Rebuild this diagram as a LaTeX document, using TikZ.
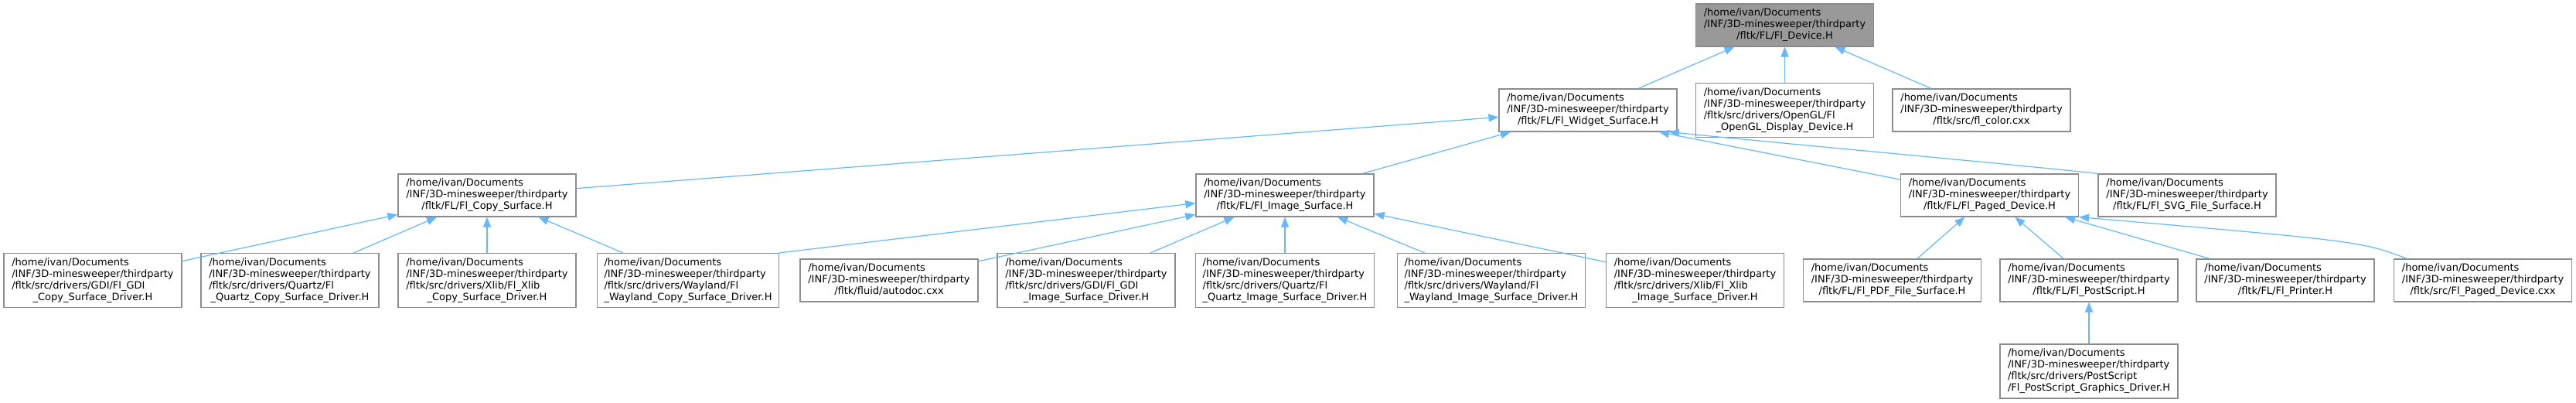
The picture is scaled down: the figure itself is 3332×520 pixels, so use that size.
\documentclass[tikz,border=0pt]{standalone}
\usepackage{fontspec}
\setmainfont{DejaVu Sans}
\usetikzlibrary{arrows.meta}
\definecolor{inclblue}{RGB}{99,184,255}
\definecolor{framegrey}{RGB}{140,140,140}
\definecolor{rootgrey}{RGB}{153,153,153}
\newcommand{\lastln}[1]{\multicolumn{1}{@{}c@{}}{#1}}
\newcommand{\docpath}[1]{\begin{tabular}{@{}l@{}}/home/ivan/Documents\\/INF/3D-minesweeper/thirdparty\\#1\end{tabular}}

\begin{document}
\begin{tikzpicture}[x=1pt,y=-1pt,font=\fontsize{13}{15}\selectfont,
    >={Triangle[length=13pt,width=10pt]},
    file/.style={draw=framegrey,fill=white,line width=1.2pt,inner xsep=9pt,inner ysep=5pt,minimum width=230pt},
    rootfile/.style={file,fill=rootgrey},
    incl/.style={->,draw=inclblue,line width=1.2pt}]
    \useasboundingbox (0,0) rectangle (3332,520);
    \node[rootfile] (device) at (2308.5,32.5) {\docpath{\lastln{/fltk/FL/Fl\_Device.H}}};
    \node[file] (widgetsurf) at (2054,142.5) {\docpath{\lastln{/fltk/FL/Fl\_Widget\_Surface.H}}};
    \node[file] (opengldev) at (2308.5,142.5) {\docpath{/fltk/src/drivers/OpenGL/Fl\\\lastln{\_OpenGL\_Display\_Device.H}}};
    \node[file] (flcolor) at (2563,142.5) {\docpath{\lastln{/fltk/src/fl\_color.cxx}}};
    \node[file] (copysurf) at (630,252.5) {\docpath{\lastln{/fltk/FL/Fl\_Copy\_Surface.H}}};
    \node[file] (imagesurf) at (1662,252.5) {\docpath{\lastln{/fltk/FL/Fl\_Image\_Surface.H}}};
    \node[file] (pageddev) at (2573.5,252.5) {\docpath{\lastln{/fltk/FL/Fl\_Paged\_Device.H}}};
    \node[file] (svgsurf) at (2829,252.5) {\docpath{\lastln{/fltk/FL/Fl\_SVG\_File\_Surface.H}}};
    \node[file] (gdicopy) at (120,362.5) {\docpath{/fltk/src/drivers/GDI/Fl\_GDI\\\lastln{\_Copy\_Surface\_Driver.H}}};
    \node[file] (quartzcopy) at (375,362.5) {\docpath{/fltk/src/drivers/Quartz/Fl\\\lastln{\_Quartz\_Copy\_Surface\_Driver.H}}};
    \node[file] (xlibcopy) at (630,362.5) {\docpath{/fltk/src/drivers/Xlib/Fl\_Xlib\\\lastln{\_Copy\_Surface\_Driver.H}}};
    \node[file] (waylandcopy) at (890,362.5) {\docpath{/fltk/src/drivers/Wayland/Fl\\\lastln{\_Wayland\_Copy\_Surface\_Driver.H}}};
    \node[file] (autodoc) at (1150,362.5) {\docpath{\lastln{/fltk/fluid/autodoc.cxx}}};
    \node[file] (gdiimage) at (1405,362.5) {\docpath{/fltk/src/drivers/GDI/Fl\_GDI\\\lastln{\_Image\_Surface\_Driver.H}}};
    \node[file] (quartzimage) at (1662,362.5) {\docpath{/fltk/src/drivers/Quartz/Fl\\\lastln{\_Quartz\_Image\_Surface\_Driver.H}}};
    \node[file] (waylandimage) at (1929,362.5) {\docpath{/fltk/src/drivers/Wayland/Fl\\\lastln{\_Wayland\_Image\_Surface\_Driver.H}}};
    \node[file] (xlibimage) at (2192.5,362.5) {\docpath{/fltk/src/drivers/Xlib/Fl\_Xlib\\\lastln{\_Image\_Surface\_Driver.H}}};
    \node[file] (pdfsurf) at (2447.5,362.5) {\docpath{\lastln{/fltk/FL/Fl\_PDF\_File\_Surface.H}}};
    \node[file] (postscript) at (2702,362.5) {\docpath{\lastln{/fltk/FL/Fl\_PostScript.H}}};
    \node[file] (printer) at (2956,362.5) {\docpath{\lastln{/fltk/FL/Fl\_Printer.H}}};
    \node[file] (pagedcxx) at (3211.5,362.5) {\docpath{\lastln{/fltk/src/Fl\_Paged\_Device.cxx}}};
    \node[file] (psgraphics) at (2702,480) {\docpath{/fltk/src/drivers/PostScript\\\lastln{/Fl\_PostScript\_Graphics\_Driver.H}}};

    \draw[incl] (widgetsurf) -- (device);
    \draw[incl] (opengldev) -- (device);
    \draw[incl] (flcolor) -- (device);
    \draw[incl] (copysurf) -- (widgetsurf);
    \draw[incl] (imagesurf) -- (widgetsurf);
    \draw[incl] (pageddev.170) -- (widgetsurf.-17);
    \draw[incl] (svgsurf.north west) .. controls (2600,212) and (2300,185) .. (widgetsurf.-15);
    \draw[incl] (gdicopy) -- (copysurf);
    \draw[incl] (quartzcopy) -- (copysurf);
    \draw[incl] (xlibcopy) -- (copysurf);
    \draw[incl] (waylandcopy) -- (copysurf);
    \draw[incl] (waylandcopy.north east) -- (imagesurf.185);
    \draw[incl] (autodoc) -- (imagesurf);
    \draw[incl] (gdiimage) -- (imagesurf);
    \draw[incl] (quartzimage) -- (imagesurf);
    \draw[incl] (waylandimage) -- (imagesurf);
    \draw[incl] (xlibimage) -- (imagesurf);
    \draw[incl] (pdfsurf) -- (pageddev);
    \draw[incl] (postscript) -- (pageddev);
    \draw[incl] (printer) -- (pageddev);
    \draw[incl] (pagedcxx.164) .. controls (3054,312) .. (pageddev.south east);
    \draw[incl] (psgraphics) -- (postscript);
  \end{tikzpicture}
\end{document}
